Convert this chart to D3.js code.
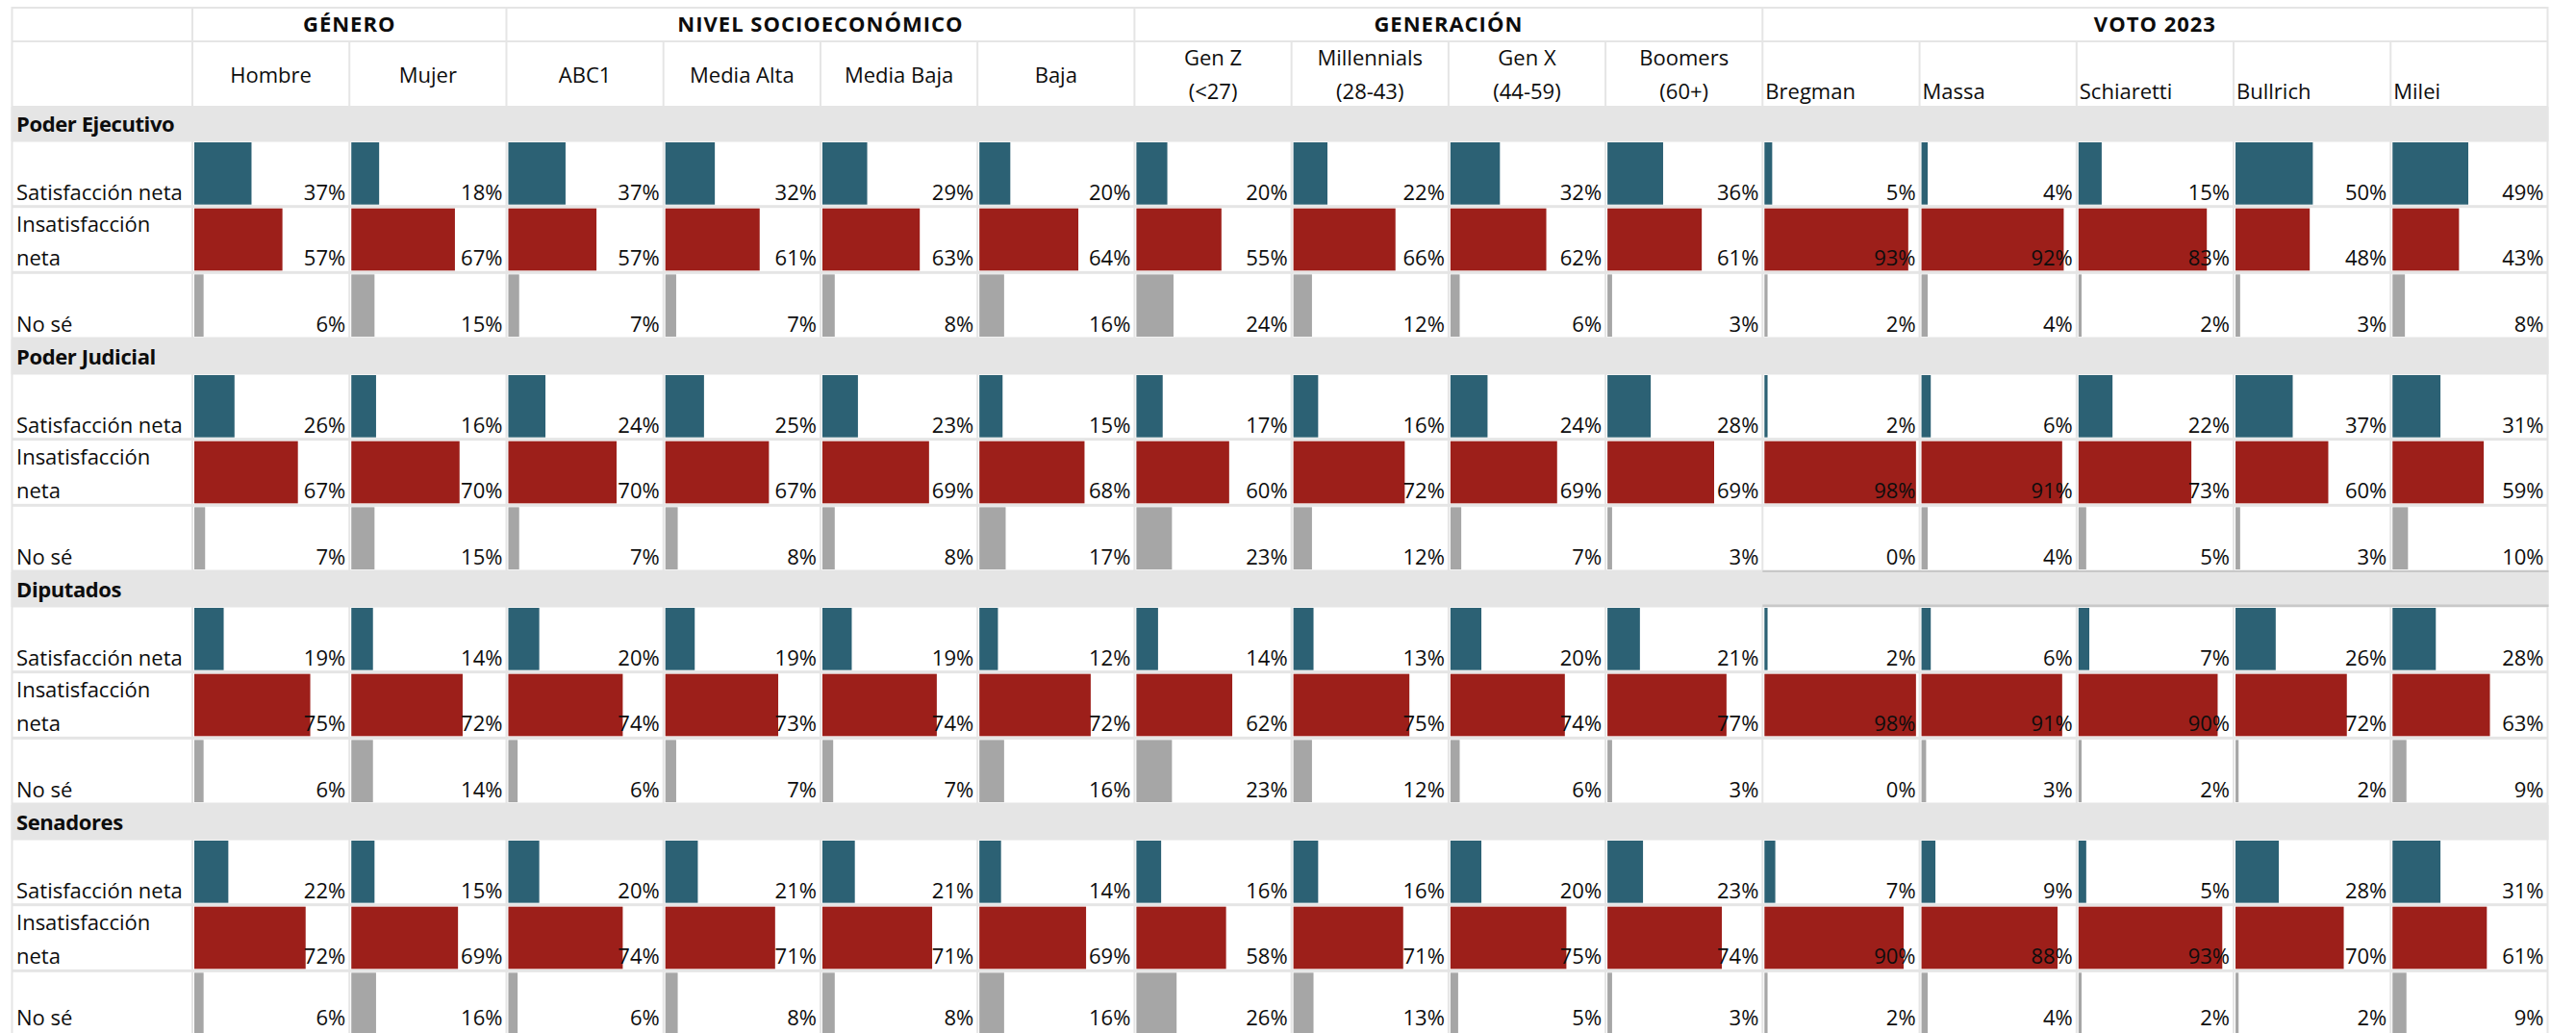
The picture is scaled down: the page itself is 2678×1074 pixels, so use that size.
<!DOCTYPE html>
<html>
<head>
<meta charset="utf-8">
<script src="https://cdn.jsdelivr.net/npm/d3@7/dist/d3.min.js"></script>
<style>
  html, body { margin: 0; padding: 0; background: #fff; overflow: hidden; }
  svg { display: block; }
  text { font-family: "Open Sans", "Noto Sans", sans-serif; fill: #0d0d0d; }
</style>
</head>
<body>
<svg id="chart" width="2678" height="1074"></svg>
<script>
// ---------------- DATA ----------------
const groupNames = ["GÉNERO", "NIVEL SOCIOECONÓMICO", "GENERACIÓN", "VOTO 2023"];
const groupSpans = [2, 4, 4, 5];
const columns = ["Hombre", "Mujer", "ABC1", "Media Alta", "Media Baja", "Baja",
  "Gen Z\n(<27)", "Millennials\n(28-43)", "Gen X\n(44-59)", "Boomers\n(60+)",
  "Bregman", "Massa", "Schiaretti", "Bullrich", "Milei"];
const sections = ["Poder Ejecutivo", "Poder Judicial", "Diputados", "Senadores"];
const measures = ["Satisfacción neta", "Insatisfacción\nneta", "No sé"];

const satisfaccion = [
  [37, 18, 37, 32, 29, 20, 20, 22, 32, 36, 5, 4, 15, 50, 49],
  [26, 16, 24, 25, 23, 15, 17, 16, 24, 28, 2, 6, 22, 37, 31],
  [19, 14, 20, 19, 19, 12, 14, 13, 20, 21, 2, 6, 7, 26, 28],
  [22, 15, 20, 21, 21, 14, 16, 16, 20, 23, 7, 9, 5, 28, 31]
];
const insatisfaccion = [
  [57, 67, 57, 61, 63, 64, 55, 66, 62, 61, 93, 92, 83, 48, 43],
  [67, 70, 70, 67, 69, 68, 60, 72, 69, 69, 98, 91, 73, 60, 59],
  [75, 72, 74, 73, 74, 72, 62, 75, 74, 77, 98, 91, 90, 72, 63],
  [72, 69, 74, 71, 71, 69, 58, 71, 75, 74, 90, 88, 93, 70, 61]
];
const noSe = [
  [6, 15, 7, 7, 8, 16, 24, 12, 6, 3, 2, 4, 2, 3, 8],
  [7, 15, 7, 8, 8, 17, 23, 12, 7, 3, 0, 4, 5, 3, 10],
  [6, 14, 6, 7, 7, 16, 23, 12, 6, 3, 0, 3, 2, 2, 9],
  [6, 16, 6, 8, 8, 16, 26, 13, 5, 3, 2, 4, 2, 2, 9]
];
const seriesValues = [satisfaccion, insatisfaccion, noSe];

// ---------------- STYLE / LAYOUT ----------------
const colors = ["#2c6174", "#9d1f1a", "#a6a6a6"];
const gridColor = "#e5e5e5";
const bandColor = "#e5e5e5";
const darkLine = "#c8c8c8";

const W = 2678, H = 1074;
const tableLeft = 11.5, tableRight = 2649.5, labelRight = 200;
const top0 = 7, head1 = 43, head2 = 111;
const sectionH = 242, bandH = 36;
const rowH = (sectionH - bandH) / 3;

const svg = d3.select("#chart");

const x = d3.scaleBand().domain(d3.range(columns.length)).range([labelRight, 2648.5]).paddingInner(0).paddingOuter(0);
const bw = x.bandwidth();
const barW = d3.scaleLinear().domain([0, 100]).range([0, bw - 2.5]);
const sectionY = d3.scaleLinear().domain([0, 1]).range([head2, head2 + sectionH]);
const rowY = (s, r) => sectionY(s) + bandH + r * rowH;
// keep the text baseline inside the picture for the last (cut) row
const baseY = yb => Math.min(yb - 8, H - 8);

// table background (acts as grid lines)
svg.append("rect").attr("x", tableLeft).attr("y", top0)
  .attr("width", tableRight - tableLeft).attr("height", H - top0 + 10)
  .attr("fill", gridColor);

// ---- header row 1 ----
const groupStarts = groupSpans.map((s, i) => d3.sum(groupSpans.slice(0, i)));
const hdr = svg.append("g");
hdr.append("rect").attr("x", tableLeft + 2).attr("y", top0 + 2)
  .attr("width", labelRight - 1 - tableLeft - 2).attr("height", head1 - top0 - 3).attr("fill", "#fff");
groupNames.forEach((g, i) => {
  const x0 = x(groupStarts[i]);
  const x1 = x(groupStarts[i] + groupSpans[i] - 1) + bw;
  hdr.append("rect").attr("x", x0 + 1).attr("y", top0 + 2)
    .attr("width", x1 - x0 - 2).attr("height", head1 - top0 - 3).attr("fill", "#fff");
  hdr.append("text").attr("x", (x0 + x1) / 2).attr("y", 33)
    .attr("text-anchor", "middle").attr("font-weight", 700).attr("font-size", 22)
    .attr("letter-spacing", 1).text(g);
});

// ---- header row 2 ----
hdr.append("rect").attr("x", tableLeft + 2).attr("y", head1 + 1)
  .attr("width", labelRight - 1 - tableLeft - 2).attr("height", head2 - head1 - 2).attr("fill", "#fff");
const groupOf = c => groupStarts.findIndex((s, i) => c >= s && c < s + groupSpans[i]);
columns.forEach((c, i) => {
  hdr.append("rect").attr("x", x(i) + 1).attr("y", head1 + 1)
    .attr("width", bw - 2).attr("height", head2 - head1 - 2).attr("fill", "#fff");
  const lines = c.split("\n");
  const g = groupOf(i);
  if (g === 3) {
    hdr.append("text").attr("x", x(i) + 3).attr("y", 103)
      .attr("font-size", 22).text(c);
  } else if (lines.length === 2) {
    lines.forEach((l, j) => hdr.append("text").attr("x", x(i) + bw / 2).attr("y", 68 + 35 * j)
      .attr("text-anchor", "middle").attr("font-size", 22).text(l));
  } else {
    hdr.append("text").attr("x", x(i) + bw / 2).attr("y", 86)
      .attr("text-anchor", "middle").attr("font-size", 22).text(c);
  }
});

// ---- sections ----
sections.forEach((sec, s) => {
  const g = svg.append("g");
  const y0 = sectionY(s);
  g.append("rect").attr("x", tableLeft).attr("y", y0)
    .attr("width", tableRight - tableLeft).attr("height", bandH).attr("fill", bandColor);
  g.append("text").attr("x", 17).attr("y", y0 + 26).attr("font-weight", 700)
    .attr("font-size", 22).attr("letter-spacing", -0.4).text(sec);

  measures.forEach((m, r) => {
    const yt = rowY(s, r);
    const yb = yt + rowH;
    // label cell
    g.append("rect").attr("x", tableLeft + 2).attr("y", yt + 0.5)
      .attr("width", labelRight - 1 - tableLeft - 2).attr("height", rowH - 3).attr("fill", "#fff");
    const lines = m.split("\n");
    lines.forEach((l, j) => g.append("text").attr("x", 17)
      .attr("y", baseY(yb) - 35 * (lines.length - 1 - j)).attr("font-size", 22).text(l));

    const vals = seriesValues[r][s];
    const cells = g.selectAll(null).data(vals).enter();
    cells.append("rect").attr("x", (d, i) => x(i) + 1).attr("y", yt + 0.5)
      .attr("width", bw - 2).attr("height", rowH - 3).attr("fill", "#fff");
    cells.append("rect").attr("x", (d, i) => x(i) + 2).attr("y", yt + 1)
      .attr("width", d => barW(d)).attr("height", rowH - 4).attr("fill", colors[r]);
    cells.append("text").attr("x", (d, i) => x(i) + bw - 4).attr("y", baseY(yb))
      .attr("text-anchor", "end").attr("font-size", 22).text(d => d + "%");
  });
});

// darker border around the "Diputados" band over the VOTO 2023 columns
const vx0 = x(groupStarts[3]), vx1 = tableRight;
const dy = sectionY(2);
svg.append("rect").attr("x", vx0).attr("y", dy - 2).attr("width", vx1 - vx0).attr("height", 2).attr("fill", darkLine);
svg.append("rect").attr("x", vx0).attr("y", dy + bandH - 2.5).attr("width", vx1 - vx0).attr("height", 2.5).attr("fill", darkLine);
</script>
</body>
</html>
